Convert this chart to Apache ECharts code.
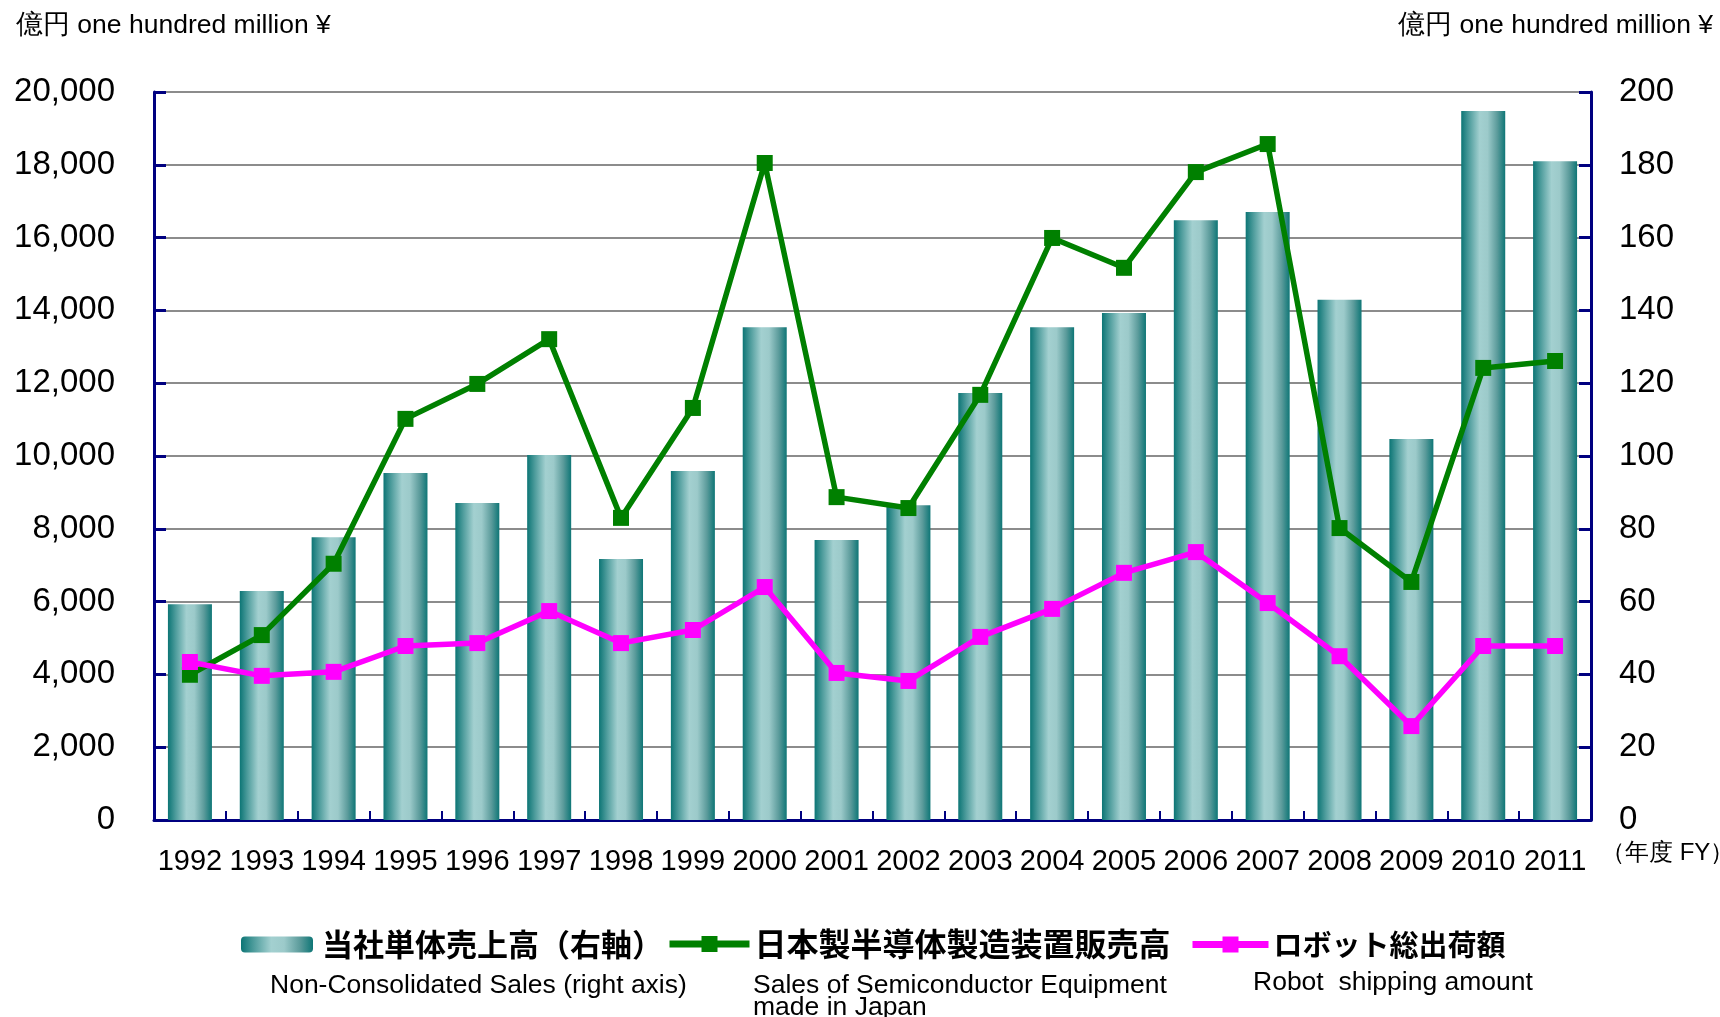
<!DOCTYPE html>
<html>
<head>
<meta charset="utf-8">
<script src="https://cdn.jsdelivr.net/npm/echarts@6/dist/echarts.min.js"></script>
<style>
html,body{margin:0;padding:0;background:#fff;}
#chart{width:1720px;height:1017px;}
</style>
</head>
<body>
<div id="chart"></div>
<script>
// ---- data ----
var years = ['1992','1993','1994','1995','1996','1997','1998','1999','2000','2001','2002','2003','2004','2005','2006','2007','2008','2009','2010','2011'];
// 当社単体売上高 (right axis, 億円)
var nonConsolidatedSales = [59.3, 62.9, 77.7, 95.3, 87.1, 100.3, 71.7, 95.9, 135.4, 76.9, 86.5, 117.3, 135.4, 139.3, 164.8, 167.0, 142.9, 104.7, 194.8, 181.0];
// 日本製半導体製造装置販売高 (left axis, 億円)
var semiconductorEquipment = [3990, 5080, 7040, 11020, 11980, 13210, 8300, 11320, 18050, 8870, 8570, 11680, 15990, 15170, 17800, 18570, 8020, 6540, 12420, 12610];
// ロボット総出荷額 (left axis, 億円)
var robotShipping = [4340, 3960, 4070, 4780, 4860, 5740, 4860, 5220, 6400, 4040, 3820, 5030, 5800, 6790, 7360, 5960, 4500, 2580, 4780, 4780];
var leftTicks = {min: 0, max: 20000, interval: 2000};
var rightTicks = {min: 0, max: 200, interval: 20};

var nameBar = '当社単体売上高（右軸）';
var nameSemi = '日本製半導体製造装置販売高';
var nameRobot = 'ロボット総出荷額';

var LAT = '"Liberation Sans", Arial, sans-serif';
var JP = '"Noto Sans CJK JP", sans-serif';
var NAVY = '#000080';

var barGradient = new echarts.graphic.LinearGradient(0, 0, 1, 0, [
  {offset: 0, color: '#0c7575'},
  {offset: 0.18, color: '#4f9d9d'},
  {offset: 0.42, color: '#a3d0d0'},
  {offset: 0.6, color: '#9ccaca'},
  {offset: 0.82, color: '#5b9b9b'},
  {offset: 1, color: '#0e7676'}
]);

var chart = echarts.init(document.getElementById('chart'), null, {renderer: 'canvas'});

function fmtComma(v){ return String(v).replace(/\B(?=(\d{3})+(?!\d))/g, ','); }

function legendText(size){ return {fontFamily: JP, fontWeight: 'bold', fontSize: size, color: '#000'}; }

var option = {
  animation: false,
  backgroundColor: '#fff',
  grid: {left: 154, right: 129, top: 92, bottom: 197, containLabel: false},
  legend: [
    {data: [nameBar], left: 241, top: 929, padding: 0, itemWidth: 72, itemHeight: 16, itemGap: 0, selectedMode: false, textStyle: Object.assign({padding: [0,0,0,4]}, legendText(31))},
    {data: [nameSemi], left: 666, top: 928, padding: 0, itemWidth: 80, itemHeight: 20, itemGap: 0, selectedMode: false, lineStyle: {width: 7}, textStyle: legendText(32)},
    {data: [nameRobot], left: 1189, top: 930, padding: 0, itemWidth: 76, itemHeight: 20, itemGap: 0, selectedMode: false, lineStyle: {width: 7}, textStyle: legendText(29)}
  ],
  xAxis: {
    type: 'category',
    data: years,
    boundaryGap: true,
    axisLine: {show: true, lineStyle: {color: NAVY, width: 3}},
    axisTick: {show: true, inside: true, length: 9, alignWithLabel: false, lineStyle: {color: NAVY, width: 2}},
    axisLabel: {interval: 0, margin: 27, fontFamily: LAT, fontSize: 29, color: '#000'},
    splitLine: {show: false}
  },
  yAxis: [
    {
      type: 'value', position: 'left',
      min: leftTicks.min, max: leftTicks.max, interval: leftTicks.interval,
      axisLine: {show: true, lineStyle: {color: NAVY, width: 3}},
      axisTick: {show: true, inside: true, length: 12, lineStyle: {color: NAVY, width: 3}},
      axisLabel: {margin: 39, fontFamily: LAT, fontSize: 33, color: '#000', formatter: fmtComma},
      splitLine: {show: true, lineStyle: {color: '#8c8c8c', width: 2}}
    },
    {
      type: 'value', position: 'right',
      min: rightTicks.min, max: rightTicks.max, interval: rightTicks.interval,
      axisLine: {show: true, lineStyle: {color: NAVY, width: 3}},
      axisTick: {show: true, inside: true, length: 12, lineStyle: {color: NAVY, width: 3}},
      axisLabel: {margin: 28, fontFamily: LAT, fontSize: 33, color: '#000'},
      splitLine: {show: false}
    }
  ],
  series: [
    {
      name: nameBar, type: 'bar', yAxisIndex: 1, data: nonConsolidatedSales,
      barWidth: 44,
      itemStyle: {color: barGradient},
      z: 2
    },
    {
      name: nameSemi, type: 'line', yAxisIndex: 0, data: semiconductorEquipment,
      symbol: 'rect', symbolSize: 16, showAllSymbol: true,
      lineStyle: {color: '#008000', width: 5.5},
      itemStyle: {color: '#008000'},
      z: 3
    },
    {
      name: nameRobot, type: 'line', yAxisIndex: 0, data: robotShipping,
      symbol: 'rect', symbolSize: 16, showAllSymbol: true,
      lineStyle: {color: '#ff00ff', width: 5.5},
      itemStyle: {color: '#ff00ff'},
      z: 4
    }
  ],
  graphic: [
    {type: 'text', left: 16, top: 12, style: {text: '億円 one hundred million ¥', fontFamily: LAT, fontSize: 26.5, fill: '#000'}},
    {type: 'text', right: 7, top: 12, style: {text: '億円 one hundred million ¥', fontFamily: LAT, fontSize: 26.5, fill: '#000'}},
    {type: 'text', left: 1601, top: 841, style: {text: '（年度 FY）', fontFamily: LAT, fontSize: 24, fill: '#000'}},
    {type: 'text', left: 270, top: 972, style: {text: 'Non-Consolidated Sales (right axis)', fontFamily: LAT, fontSize: 26.5, fill: '#000'}},
    {type: 'text', left: 753, top: 972, style: {text: 'Sales of Semiconductor Equipment\nmade in Japan', fontFamily: LAT, fontSize: 26.5, lineHeight: 22, fill: '#000'}},
    {type: 'text', left: 1253, top: 969, style: {text: 'Robot  shipping amount', fontFamily: LAT, fontSize: 26.5, fill: '#000'}}
  ]
};
chart.setOption(option);
</script>
</body>
</html>
